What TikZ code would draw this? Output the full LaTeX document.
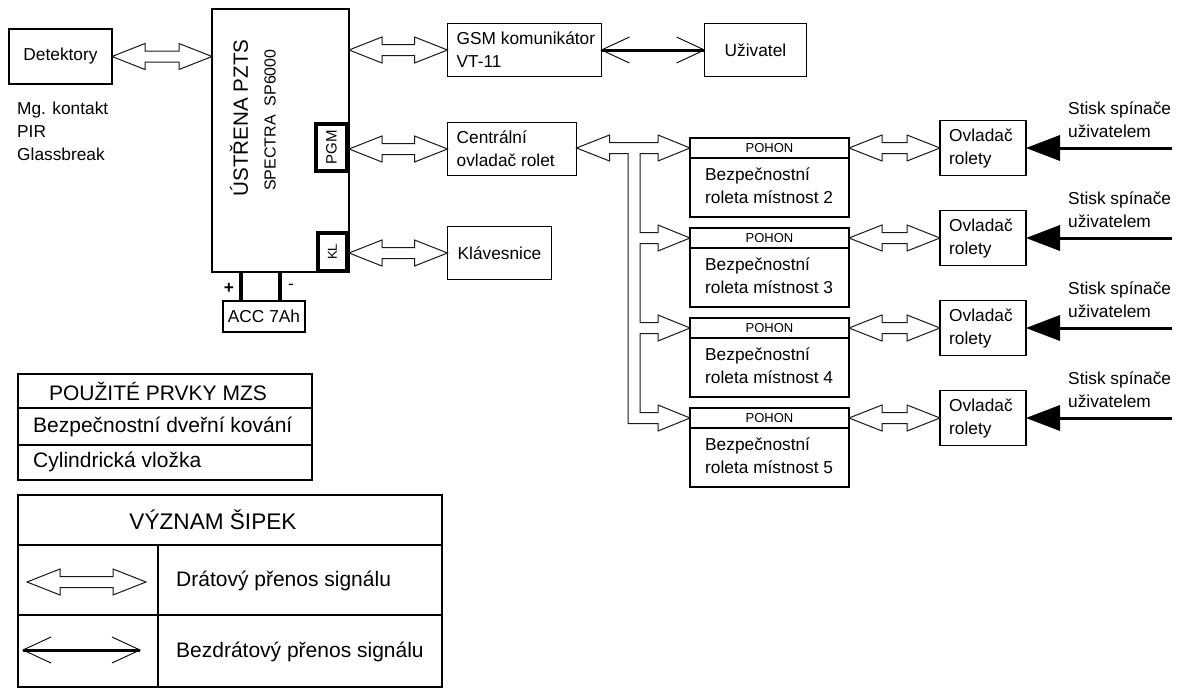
\documentclass[tikz,border=0pt]{standalone}
\usepackage{fontspec}
\setmainfont{Liberation Sans}
\usetikzlibrary{calc}
\newcommand{\fmain}{\fontsize{17.3}{23}\selectfont}
\newcommand{\ftab}{\fontsize{21}{25}\selectfont}
\newcommand{\fhead}{\fontsize{22.6}{27}\selectfont}
\newcommand{\fbig}{\fontsize{20.6}{24}\selectfont}
\newcommand{\fmid}{\fontsize{16}{19}\selectfont}
\newcommand{\fpgm}{\fontsize{15}{18}\selectfont}
\newcommand{\fkl}{\fontsize{13}{16}\selectfont}
\newcommand{\fpohon}{\fontsize{13}{16}\selectfont}
% horizontal hollow double arrow
\newcommand{\dwire}[2]{%
 \path[wire] let \p1=(#1), \p2=(#2) in
 (\x1,\y1) -- (\x1+33pt,\y1+13pt) -- (\x1+33pt,\y1+5.5pt) -- (\x2-33pt,\y1+5.5pt) -- (\x2-33pt,\y1+13pt) -- (\x2,\y1)
 -- (\x2-33pt,\y1-13pt) -- (\x2-33pt,\y1-5.5pt) -- (\x1+33pt,\y1-5.5pt) -- (\x1+33pt,\y1-13pt) -- cycle;}
% wireless double arrow
\newcommand{\wless}[2]{%
 \draw[line width=3pt] (#1) -- (#2);
 \draw[line width=0.9pt] let \p1=(#1), \p2=(#2) in
 (\x1+28pt,\y1+13pt) -- (\x1,\y1) -- (\x1+28pt,\y1-13pt)
 (\x2-28pt,\y1+13pt) -- (\x2,\y1) -- (\x2-28pt,\y1-13pt);}
\begin{document}
\begin{tikzpicture}[x=1pt,y=-1pt,
  box/.style={draw, line width=1.3pt, fill=white, inner sep=0pt, outer sep=0pt},
  txt/.style={font=\fmain, align=left, inner sep=0pt},
  wire/.style={draw=black!90, line width=1pt, fill=white, line join=miter},
  thickbox/.style={draw, line width=4pt, fill=white, inner sep=0pt, outer sep=0pt}]
\useasboundingbox[fill=white] (0,0) rectangle (1186,688);

% ---- left part
\node[box, minimum width=103, minimum height=55, font=\fmain] (det) at (60.5,56.5) {Detektory};
\node[txt, anchor=west] (detl) at (17,131) {Mg. kontakt\\PIR\\Glassbreak};

\node[box, line width=2.8pt, minimum width=137, minimum height=263] (cpu) at (280.5,140.5) {};
\node[rotate=90, font=\fbig, inner sep=0pt] (cpu1) at (239,118) {ÚSTŘENA PZTS};
\node[rotate=90, font=\fmid, inner sep=0pt] (cpu2) at (270,120) {SPECTRA\ \ SP6000};
\node[thickbox, rotate=90, minimum width=47, minimum height=31, font=\fpgm] (pgm) at (331.5,147.5) {PGM};
\node[thickbox, rotate=90, minimum width=38, minimum height=29, font=\fkl] (kl) at (332.5,252) {KL};

\node[box, line width=1.7pt, minimum width=82, minimum height=31, font=\fmain] (acc) at (264,316.5) {ACC 7Ah};
\coordinate (ap) at (241,300);
\coordinate (am) at (280,300);
\draw[line width=4pt] (ap) -- (ap |- cpu.south);
\draw[line width=4pt] (am) -- (am |- cpu.south);
\node[font=\fmain\bfseries, inner sep=0pt] (plus) at (229,288) {+};
\node[font=\fmain, inner sep=0pt] (minus) at (291,287) {-};

% ---- middle column
\node[box, minimum width=154, minimum height=53] (gsm) at (524.5,50) {};
\node[txt, anchor=west] (gsmt) at ($(gsm.west)+(9,0)$) {GSM komunikátor\\VT-11};
\node[box, minimum width=102, minimum height=53, font=\fmain] (uz) at (755.5,50) {Uživatel};
\node[box, minimum width=129, minimum height=53] (cent) at (512,149) {};
\node[txt, anchor=west] (centt) at ($(cent.west)+(9,0)$) {Centrální\\ovladač rolet};
\node[box, minimum width=104, minimum height=53, font=\fmain] (kla) at (499.5,253) {Klávesnice};

\dwire{det.east}{cpu.west |- det.east}
\dwire{cpu.east |- gsm.west}{gsm.west}
\dwire{cpu.east |- cent.west}{cent.west}
\dwire{cpu.east |- kla.west}{kla.west}
\wless{gsm.east}{uz.west}

% ---- roller shutters
\foreach \k/\y in {2/148,3/238,4/328,5/418}{
  \node[box, minimum width=159, minimum height=20, font=\fpohon] (ph\k) at (769.5,\y) {POHON};
  \node[box, minimum width=159, minimum height=59, anchor=north] (pb\k) at (ph\k.south) {};
  \node[txt, anchor=west] (pt\k) at ($(pb\k.west)+(15,-2)$) {Bezpečnostní\\roleta místnost \k};
  \node[box, minimum width=86, minimum height=55] (ov\k) at (983,\y) {};
  \node[txt, anchor=west] (ovt\k) at ($(ov\k.west)+(9,0)$) {Ovladač\\rolety};
  \dwire{ph\k.east}{ov\k.west}
  \coordinate (s\k) at (1172,\y);
  \draw[line width=3pt] (s\k) -- ($(ov\k.east)+(30,0)$);
  \fill (ov\k.east) -- ++(34,-13) -- ++(0,26) -- cycle;
  \node[txt, anchor=west] (st\k) at (1068,\y-28) {Stisk spínače\\uživatelem};
}

% branching wired bus from central controller
\path[wire] let \p1=(cent.east), \p2=(ph2.west), \p3=(ph3.west), \p4=(ph4.west), \p5=(ph5.west) in
 (\x1,\y2) -- (\x1+33pt,\y2+13pt) -- (\x1+33pt,\y2+5.5pt) -- (\x2-32pt,\y2+5.5pt) -- (\x2-32pt,\y2+13pt) -- (\x2,\y2)
 -- (\x2-32pt,\y2-13pt) -- (\x2-32pt,\y2-5.5pt) -- (640pt,\y2-5.5pt)
 -- (640pt,\y3+5.5pt) -- (\x2-32pt,\y3+5.5pt) -- (\x2-32pt,\y3+13pt) -- (\x2,\y3) -- (\x2-32pt,\y3-13pt) -- (\x2-32pt,\y3-5.5pt) -- (640pt,\y3-5.5pt)
 -- (640pt,\y4+5.5pt) -- (\x2-32pt,\y4+5.5pt) -- (\x2-32pt,\y4+13pt) -- (\x2,\y4) -- (\x2-32pt,\y4-13pt) -- (\x2-32pt,\y4-5.5pt) -- (640pt,\y4-5.5pt)
 -- (640pt,\y5+5.5pt) -- (\x2-32pt,\y5+5.5pt) -- (\x2-32pt,\y5+13pt) -- (\x2,\y5) -- (\x2-32pt,\y5-13pt) -- (\x2-32pt,\y5-5.5pt) -- (628pt,\y5-5.5pt)
 -- (628pt,\y2-5.5pt) -- (\x1+33pt,\y2-5.5pt) -- (\x1+33pt,\y2-13pt) -- cycle;

% ---- table of used elements
\draw[line width=1.3pt] (18,374) rectangle (312,480);
\draw[line width=1.3pt] (18,408) -- (312,408) (18,445) -- (312,445);
\node[font=\ftab, inner sep=0pt] (t1) at (158,391) {POUŽITÉ PRVKY MZS};
\node[font=\ftab, inner sep=0pt, anchor=west] (t2) at (33,427) {Bezpečnostní dveřní kování};
\node[font=\ftab, inner sep=0pt, anchor=west] (t3) at (33,462) {Cylindrická vložka};

% ---- legend
\draw[line width=1.3pt] (18,495) rectangle (442,687);
\draw[line width=1.3pt] (18,545) -- (442,545) (18,615) -- (442,615) (158,545) -- (158,687);
\node[font=\fhead, inner sep=0pt] (lh) at (213,520) {VÝZNAM ŠIPEK};
\coordinate (la1) at (27,582);
\coordinate (la2) at (146,582);
\dwire{la1}{la2}
\coordinate (lw1) at (23,650);
\coordinate (lw2) at (140,650);
\wless{lw1}{lw2}
\node[font=\ftab, inner sep=0pt, anchor=west] (ld) at (176,581) {Drátový přenos signálu};
\node[font=\ftab, inner sep=0pt, anchor=west] (lb) at (176,652) {Bezdrátový přenos signálu};
\end{tikzpicture}
\end{document}
